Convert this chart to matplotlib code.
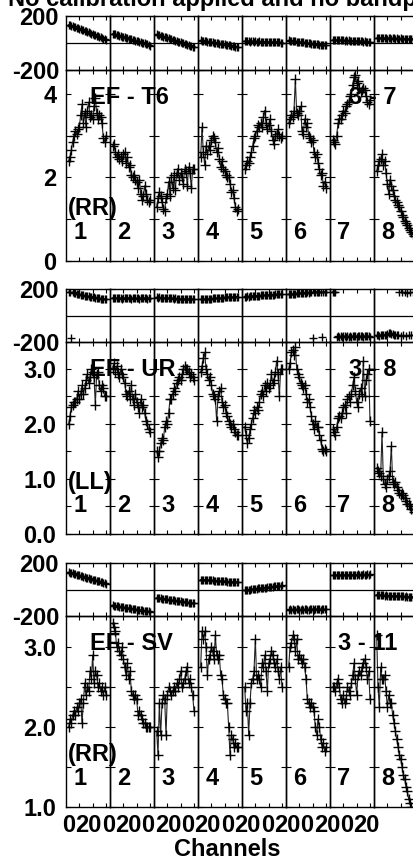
import numpy as np
import matplotlib.pyplot as plt
from matplotlib.ticker import FixedLocator

plt.rcParams['font.family'] = ['Liberation Sans', 'DejaVu Sans']
plt.rcParams['font.weight'] = 'bold'

# ---------------------------------------------------------------
# data: 8 IFs, channels 2..30 in each
# ---------------------------------------------------------------
channels = np.arange(2, 31)
if_names = ['1', '2', '3', '4', '5', '6', '7', '8']
baselines = ['EF - T6', 'EF - UR', 'EF - SV']
right_names = ['3 - 7', '3 - 8', '3 - 11']
pols = ['(RR)', '(LL)', '(RR)']

amp_t6 = [
    [2.4, 2.5, 2.65, 2.85, 3.0, 3.1, 3.05, 3.15, 3.2, 3.5, 3.75, 3.3, 3.55, 3.2, 3.6,
     3.8, 3.45, 3.5, 3.4, 3.7, 3.9, 3.55, 3.4, 3.5, 3.45, 3.3, 2.95, 2.85, 3.0],
    [2.75, 2.8, 2.6, 2.5, 2.55, 2.45, 2.5, 2.4, 2.55, 2.6, 2.35, 2.5, 2.25, 2.3, 2.05,
     2.0, 2.05, 1.95, 1.9, 1.75, 1.95, 1.6, 1.45, 1.55, 1.8, 1.6, 1.45, 1.4, 1.45],
    [1.3, 1.5, 1.65, 1.55, 1.4, 1.25, 1.2, 1.5, 1.6, 1.9, 1.55, 2.0, 1.75, 2.05, 1.7,
     2.1, 2.2, 1.95, 2.1, 2.0, 1.85, 2.2, 2.15, 1.8, 2.25, 2.1, 1.75, 2.2, 2.2],
    [2.5, 3.2, 2.6, 2.3, 2.75, 2.55, 2.75, 2.65, 2.9, 3.0, 2.95, 2.85, 2.6, 2.7, 2.45,
     2.25, 2.4, 2.2, 2.15, 2.05, 2.0, 2.0, 1.85, 1.65, 1.7, 1.5, 1.3, 1.2, 1.25],
    [2.2, 2.3, 2.4, 2.35, 2.5, 2.6, 2.75, 2.95, 3.0, 3.1, 3.25, 3.2, 3.3, 3.2, 3.45,
     3.6, 3.3, 3.15, 3.25, 3.4, 3.1, 2.9, 2.8, 3.0, 3.05, 3.15, 3.0, 2.95, 3.0],
    [3.3, 3.4, 3.5, 3.45, 3.6, 4.35, 3.55, 3.5, 3.6, 3.7, 3.1, 3.05, 3.4, 3.2, 3.3,
     3.0, 2.95, 2.85, 2.9, 2.6, 2.5, 2.55, 2.35, 2.2, 2.05, 2.1, 1.8, 1.9, 1.75],
    [2.9, 2.85, 2.8, 3.0, 3.3, 3.4, 3.4, 3.5, 3.6, 3.55, 3.7, 3.75, 3.8, 3.95, 4.0,
     4.2, 4.4, 4.45, 4.25, 4.3, 4.15, 4.05, 4.1, 4.15, 4.1, 3.95, 3.8, 3.75, 3.85],
    [2.15, 2.3, 2.4, 2.45, 2.55, 2.3, 2.4, 2.1, 1.85, 1.6, 1.95, 1.8, 1.7, 1.55, 1.45,
     1.4, 1.35, 1.3, 1.2, 1.1, 1.05, 0.95, 0.9, 0.85, 0.8, 0.75, 0.7, 0.65, 0.6],
]
phase_t6 = [
    [136, 132, 128, 125, 120, 117, 113, 108, 105, 101, 97, 93, 89, 86, 82,
     78, 74, 70, 66, 62, 58, 54, 50, 46, 42, 37, 32, 27, 22],
    [69, 66, 63, 60, 57, 54, 51, 48, 45, 42, 40, 36, 33, 30, 27,
     24, 21, 18, 15, 12, 9, 6, 3, 0, -3, -7, -11, -15, -20],
    [64, 60, 57, 54, 50, 47, 44, 41, 37, 34, 31, 28, 24, 21, 18,
     15, 11, 8, 5, 2, -2, -5, -9, -12, -16, -19, -23, -27, -30],
    [20, 18, 16, 15, 13, 11, 10, 8, 6, 4, 3, 1, -1, -3, -4,
     -6, -8, -10, -11, -13, -15, -17, -18, -20, -22, -24, -26, -28, -30],
    [14, 12, 15, 13, 11, 14, 12, 10, 13, 11, 9, 12, 10, 8, 11,
     9, 7, 10, 8, 6, 9, 7, 5, 8, 6, 4, 5, 3, 2],
    [20, 18, 17, 15, 14, 13, 11, 10, 8, 7, 6, 4, 3, 1, 0,
     -1, -3, -4, -6, -7, -8, -10, -11, -12, -13, -14, -15, -16, -17],
    [24, 22, 25, 21, 23, 20, 22, 19, 21, 18, 20, 17, 19, 16, 18,
     15, 17, 14, 16, 13, 15, 12, 14, 11, 12, 10, 11, 8, 7],
    [36, 38, 35, 39, 37, 34, 38, 36, 33, 37, 35, 32, 36, 34, 31,
     35, 33, 32, 34, 31, 33, 30, 32, 31, 30, 32, 29, 31, 30],
]

amp_ur = [
    [2.0, 2.15, 2.3, 2.35, 2.4, 2.4, 2.45, 2.6, 2.45, 2.55, 2.7, 2.55, 2.65, 2.8, 2.9,
     2.75, 2.85, 3.0, 2.95, 2.85, 2.35, 2.9, 2.95, 2.7, 2.6, 2.7, 2.65, 2.5, 2.5],
    [3.0, 3.1, 2.95, 3.05, 2.9, 2.85, 3.0, 2.9, 2.85, 2.75, 2.55, 2.5, 2.6, 2.45, 2.7,
     2.45, 2.35, 2.55, 2.4, 2.3, 2.2, 2.45, 2.3, 2.35, 2.2, 2.05, 2.0, 1.9, 1.85],
    [1.5, 1.4, 1.5, 1.65, 1.75, 1.7, 1.95, 2.05, 2.0, 2.2, 2.45, 2.45, 2.55, 2.65, 2.6,
     2.75, 2.8, 2.85, 2.8, 2.9, 3.0, 3.05, 3.0, 3.0, 2.95, 2.85, 2.9, 2.85, 2.8],
    [2.95, 3.05, 3.2, 3.3, 3.0, 2.9, 2.8, 2.85, 2.7, 2.55, 2.5, 2.45, 2.05, 2.5, 2.6,
     2.65, 2.4, 2.3, 2.35, 2.2, 2.15, 2.05, 2.0, 1.95, 2.0, 1.9, 1.85, 1.8, 1.8],
    [1.95, 1.8, 1.65, 1.75, 1.9, 2.0, 2.1, 2.25, 2.2, 2.3, 2.25, 2.4, 2.55, 2.6, 2.5,
     2.7, 2.6, 2.75, 2.65, 2.7, 2.9, 2.75, 2.8, 2.95, 3.15, 2.9, 2.5, 3.0, 3.0],
    [3.0, 3.1, 3.3, 3.35, 3.25, 3.4, 3.0, 2.9, 2.85, 2.75, 2.7, 2.65, 2.7, 2.55, 2.4,
     2.45, 2.3, 2.15, 2.0, 1.9, 2.05, 1.95, 1.95, 1.8, 1.7, 1.55, 1.5, 1.55, 1.5],
    [1.9, 1.85, 1.8, 1.95, 2.1, 2.15, 2.1, 2.2, 2.3, 2.35, 2.2, 2.45, 2.5, 2.4, 2.55,
     2.7, 2.85, 2.6, 2.4, 2.3, 2.55, 2.65, 2.5, 3.15, 2.5, 2.8, 2.9, 3.0, 2.05],
    [1.2, 1.15, 1.1, 1.05, 1.85, 1.0, 0.9, 0.85, 1.0, 1.05, 1.15, 1.6, 0.95, 0.9, 0.95,
     0.85, 0.8, 0.75, 0.7, 0.75, 0.7, 0.65, 0.6, 0.55, 0.55, 0.5, 0.45, 0.45, 0.4],
]
phase_ur = [
    [178, 176, -172, 174, 170, 168, 165, 163, 160, 158, 155, 152, 150, 148, 146,
     144, 142, 140, 138, 136, 135, 133, 131, 130, 128, 127, 126, 125, 124],
    [133, 130, 132, 129, 131, 134, 130, 128, 132, 130, 131, 129, 133, 130, 128,
     131, 132, 129, 130, 131, 128, 132, 130, 129, 131, 130, 128, 132, 130],
    [136, 135, 137, 134, 133, 135, 132, 131, 133, 130, 131, 129, 130, 128, 129,
     127, 128, 126, 127, 125, 126, 124, 125, 124, 123, 125, 123, 124, 122],
    [122, 124, 123, 125, 126, 125, 127, 128, 127, 129, 130, 131, 130, 132, 133,
     134, 133, 135, 136, 137, 136, 138, 139, 140, 139, 141, 142, 143, 143],
    [141, 143, 144, 143, 145, 146, 147, 146, 148, 149, 150, 149, 151, 152, 153,
     152, 154, 155, 156, 155, 157, 158, 157, 159, 160, 159, 161, 160, 162],
    [160, 162, 163, 164, 166, 165, 167, 168, 169, 170, 171, 170, 172, 173, 174,
     173, 175, 176, -167, 176, 177, 178, 177, 179, 178, -165, 179, 180, 179],
    [178, 179, 177, -160, -158, -162, -157, -160, -155, -158, -161, -156, -159, -157, -160,
     -155, -158, -156, -159, -157, -154, -158, -156, -160, -155, -157, -158, -156, -159],
    [-150, -148, -152, -147, -150, -145, -149, -146, -140, -135, -132, -138, -142, -146, -148,
     -150, -147, 176, -151, 174, -149, 178, -152, 172, -148, 177, -150, 175, -147],
]

amp_sv = [
    [2.0, 2.1, 2.05, 2.15, 2.2, 2.15, 2.25, 2.2, 2.3, 2.35, 2.05, 2.3, 2.55, 2.4, 2.5,
     2.45, 2.7, 2.6, 2.9, 2.55, 2.7, 2.65, 2.5, 2.55, 2.45, 2.5, 2.4, 2.5, 2.4],
    [3.3, 3.25, 3.2, 3.0, 3.05, 2.95, 2.9, 3.0, 2.85, 2.75, 2.65, 2.8, 2.6, 2.7, 2.45,
     2.4, 2.35, 2.4, 2.35, 2.15, 2.2, 2.15, 2.1, 2.05, 2.05, 2.0, 2.0, 2.0, 2.0],
    [1.95, 1.65, 2.3, 1.9, 2.3, 2.4, 2.35, 1.9, 2.4, 2.5, 2.45, 2.4, 2.45, 2.5, 2.45,
     2.55, 2.5, 2.6, 2.7, 2.5, 2.55, 2.6, 2.7, 2.75, 2.55, 2.6, 2.5, 2.4, 2.2],
    [2.75, 3.2, 3.1, 3.2, 3.0, 2.65, 2.85, 2.9, 3.0, 2.95, 2.85, 3.15, 2.9, 2.85, 2.9,
     2.65, 2.6, 2.4, 2.35, 2.3, 2.3, 2.0, 1.65, 1.9, 1.85, 1.75, 1.8, 1.75, 1.75],
    [2.5, 2.2, 2.3, 1.9, 2.3, 2.55, 2.6, 2.7, 3.1, 2.6, 2.65, 2.6, 2.5, 2.8, 2.75,
     2.9, 2.7, 2.45, 2.8, 2.85, 2.95, 2.9, 2.8, 2.75, 2.85, 2.7, 2.6, 2.75, 2.5],
    [2.75, 3.0, 3.05, 3.15, 3.1, 2.95, 3.1, 2.85, 2.9, 2.85, 2.8, 2.85, 2.75, 2.6, 2.35,
     2.3, 2.25, 2.3, 2.25, 2.2, 2.0, 1.9, 2.1, 2.0, 1.85, 1.75, 1.8, 1.7, 1.75],
    [2.5, 2.5, 2.45, 2.55, 2.6, 2.5, 2.35, 2.3, 2.4, 2.3, 2.35, 2.5, 2.45, 2.4, 2.55,
     2.65, 2.8, 2.6, 2.4, 2.65, 2.7, 2.65, 2.75, 2.8, 2.85, 2.75, 2.6, 2.7, 2.35],
    [3.15, 2.5, 2.25, 2.75, 2.6, 2.6, 2.65, 2.45, 2.25, 2.4, 2.3, 2.3, 2.15, 2.05, 1.95,
     1.85, 1.75, 1.65, 1.6, 1.5, 1.4, 1.35, 1.25, 1.2, 1.1, 1.05, 1.0, 0.95, 0.9],
]
phase_sv = [
    [131, 128, 125, 121, 118, 116, 112, 108, 106, 102, 99, 97, 93, 90, 88,
     84, 81, 79, 75, 72, 70, 66, 63, 61, 57, 54, 52, 47, 44],
    [-118, -121, -123, -125, -127, -129, -131, -132, -134, -136, -138, -139, -141, -143, -145,
     -146, -148, -150, -151, -153, -155, -156, -158, -159, -160, -162, -163, -165, -167],
    [-62, -64, -66, -67, -69, -70, -72, -73, -75, -76, -78, -79, -81, -82, -84,
     -85, -87, -88, -90, -91, -93, -94, -96, -97, -99, -100, -102, -103, -105],
    [75, 74, 73, 72, 72, 71, 70, 69, 69, 68, 67, 66, 66, 65, 64,
     63, 63, 62, 61, 61, 60, 59, 59, 58, 58, 57, 57, 56, 56],
    [-6, -4, -3, -2, 0, 1, 2, 4, 5, 6, 8, 9, 10, 11, 13,
     14, 15, 17, 18, 19, 21, 22, 23, 25, 26, 27, 29, 30, 32],
    [-152, -150, -153, -149, -151, -154, -150, -148, -152, -151, -149, -153, -150, -148, -151,
     -152, -149, -147, -150, -152, -148, -150, -146, -149, -151, -147, -148, -150, -146],
    [106, 108, 107, 109, 110, 108, 111, 109, 110, 112, 110, 109, 111, 113, 110,
     112, 111, 113, 112, 114, 111, 113, 112, 115, 113, 112, 114, 113, 115],
    [-38, -42, -44, -43, -45, -44, -46, -45, -47, -46, -48, -47, -49, -48, -50,
     -49, -51, -50, -52, -51, -52, -53, -52, -54, -53, -55, -54, -55, -56],
]

amps = [amp_t6, amp_ur, amp_sv]
phases = [phase_t6, phase_ur, phase_sv]

# amplitude axis settings per baseline
amp_lims = [(0, 4.57), (0, 3.49), (1.0, 3.39)]
amp_major = [[0, 2, 4], [0, 1, 2, 3], [1, 2, 3]]
amp_major_lbl = [['0', '2', '4'], ['0.0', '1.0', '2.0', '3.0'], ['1.0', '2.0', '3.0']]
amp_minor = [[1, 3], [0.5, 1.5, 2.5], [1.5, 2.5]]

# ---------------------------------------------------------------
# layout (pixels)
# ---------------------------------------------------------------
W, H = 414, 860
x0, pw = 66, 44
rows = [(16, 70, 261), (289, 342, 534), (563, 616, 807)]
FS = 17

fig = plt.figure(figsize=(W / 100, H / 100), dpi=100)
fig.patch.set_facecolor('white')


def add_ax(left, top, bottom):
    return fig.add_axes([left / W, 1 - bottom / H, pw / W, (bottom - top) / H])


def style(ax, first):
    ax.set_facecolor('none')
    for s in ax.spines.values():
        s.set_linewidth(1.0)
        s.set_color('black')
    ax.set_xlim(0, 33)
    ax.set_xticks([10, 20, 30])
    ax.tick_params(axis='x', direction='in', top=True, bottom=True,
                   length=3, width=0.8, labelbottom=False)
    ax.tick_params(axis='y', which='both', direction='in', left=True, right=True,
                   length=3.5, width=0.8, labelleft=first, labelsize=FS, pad=5)


for r in range(3):
    ptop, mid, abot = rows[r]
    for k in range(8):
        left = x0 + pw * k
        axp = add_ax(left, ptop, mid)
        axa = add_ax(left, mid, abot)
        style(axp, k == 0)
        style(axa, k == 0)

        # phase panel
        axp.set_ylim(-200, 200)
        axp.set_yticks([-200, 200])
        axp.set_yticklabels(['-200', '200'], fontweight='bold')
        axp.axhline(0, color='black', lw=0.9)
        p = np.array(phases[r][k], dtype=float)
        x = channels.astype(float)
        jumps = np.where(np.abs(np.diff(p)) > 180)[0] + 1
        p = np.insert(p, jumps, np.nan)
        x = np.insert(x, jumps, np.nan)
        axp.plot(x, p, color='#222222', lw=0.8, marker='+', ms=6,
                 mec='black', mew=1.0)

        # amplitude panel
        axa.set_ylim(*amp_lims[r])
        axa.yaxis.set_major_locator(FixedLocator(amp_major[r]))
        axa.set_yticklabels(amp_major_lbl[r], fontweight='bold')
        axa.yaxis.set_minor_locator(FixedLocator(amp_minor[r]))
        axa.tick_params(axis='y', which='minor', length=3.5, width=0.8)
        axa.tick_params(axis='y', pad=7)
        axa.plot(channels, amps[r][k], color='#222222', lw=0.8, marker='+',
                 ms=6.5, mec='black', mew=1.0)

        axa.text(14 / pw, 0.15, if_names[k], transform=axa.transAxes,
                 ha='center', va='center', fontsize=FS, fontweight='bold')
        if k == 0:
            h = abot - mid
            axa.text((90 - x0) / pw, 1 - 27 / h, baselines[r], transform=axa.transAxes,
                     ha='left', va='center', fontsize=FS, fontweight='bold',
                     clip_on=False, zorder=5)
            axa.text(2 / pw, 52 / h, pols[r], transform=axa.transAxes,
                     ha='left', va='center', fontsize=FS, fontweight='bold',
                     clip_on=False, zorder=5)
        if k == 7:
            h = abot - mid
            axa.text(23 / pw, 1 - 27 / h, right_names[r], transform=axa.transAxes,
                     ha='right', va='center', fontsize=FS, fontweight='bold',
                     clip_on=False, zorder=5)

# channel labels under the bottom row
for k in range(8):
    g = 62 + 39.75 * k
    fig.text((g + 6.6) / W, 1 - 826 / H, '0', ha='center', va='center',
             fontsize=FS, fontweight='bold')
    fig.text((g + 26.5) / W, 1 - 826 / H, '20', ha='center', va='center',
             fontsize=FS, fontweight='bold')

fig.text(227.5 / W, 1 - 849 / H, 'Channels', ha='center', va='center',
         fontsize=FS, fontweight='bold')
fig.text(8 / W, 1 - 6 / H, 'No calibration applied and no bandpass applied',
         ha='left', va='baseline', fontsize=FS, fontweight='bold')

fig.savefig('out.png', dpi=100)
